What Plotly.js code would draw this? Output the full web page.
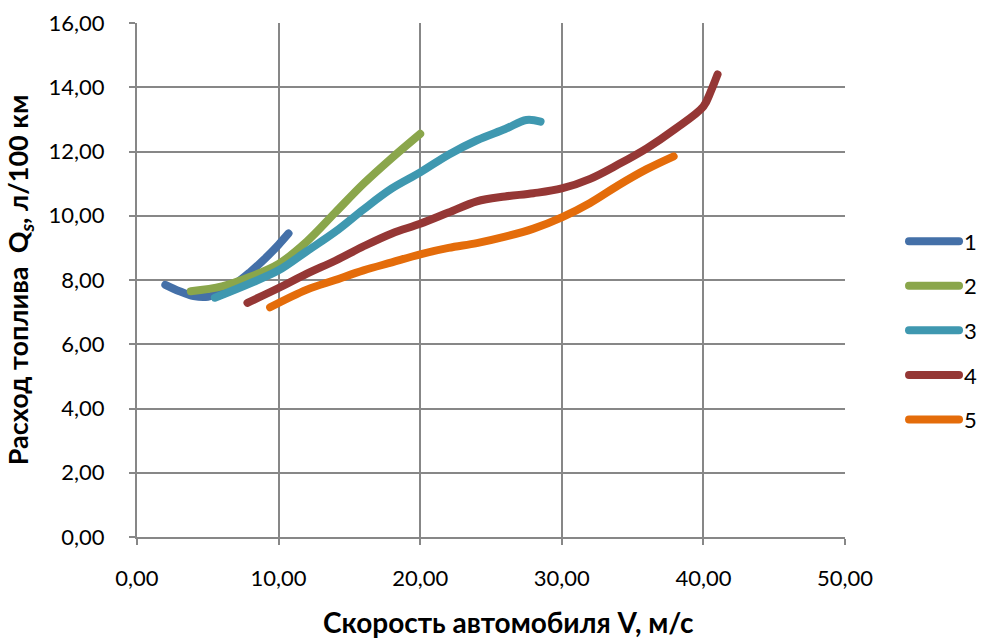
<!DOCTYPE html>
<html>
<head>
<meta charset="utf-8">
<script src="https://cdn.plot.ly/plotly-3.0.1.min.js"></script>
<style>
  html, body { margin: 0; padding: 0; background: #fff; }
  #chart { width: 982px; height: 639px; }
  /* rounded ends on the curves and legend swatches */
  #chart path.js-line { stroke-linecap: round; stroke-linejoin: round; }
</style>
</head>
<body>
<div id="chart"></div>
<script>
// Fuel consumption vs vehicle speed, five gears
const seriesNames = ['1', '2', '3', '4', '5'];
const seriesColors = ['#4470A8', '#8AA64B', '#3F98B0', '#953735', '#E46C0A'];

const v1 = [2.0, 3.0, 4.0, 5.0, 6.0, 7.0, 8.0, 9.0, 10.0, 10.7];
const q1 = [7.85, 7.65, 7.5, 7.48, 7.65, 7.9, 8.25, 8.65, 9.1, 9.45];

const v2 = [3.8, 6.0, 8.0, 10.0, 12.0, 14.0, 16.0, 18.0, 20.0];
const q2 = [7.65, 7.8, 8.1, 8.5, 9.2, 10.1, 11.0, 11.8, 12.55];

const v3 = [5.5, 8.0, 10.0, 12.0, 14.0, 16.0, 18.0, 20.0, 22.0, 24.0, 26.0, 27.5, 28.5];
const q3 = [7.45, 7.9, 8.3, 8.9, 9.5, 10.2, 10.85, 11.35, 11.9, 12.35, 12.7, 12.98, 12.93];

const v4 = [7.8, 10.0, 12.0, 14.0, 16.0, 18.0, 20.0, 22.0, 24.0, 26.0, 28.0, 30.0, 32.0, 34.0, 36.0, 38.0, 40.0, 40.5, 41.0];
const q4 = [7.29, 7.75, 8.2, 8.6, 9.05, 9.45, 9.75, 10.1, 10.45, 10.6, 10.7, 10.85, 11.15, 11.6, 12.1, 12.7, 13.4, 13.85, 14.4];

const v5 = [9.4, 12.0, 14.0, 16.0, 18.0, 20.0, 22.0, 24.0, 26.0, 28.0, 30.0, 32.0, 34.0, 36.0, 37.9];
const q5 = [7.15, 7.7, 8.0, 8.3, 8.55, 8.8, 9.0, 9.15, 9.35, 9.6, 9.95, 10.4, 10.95, 11.45, 11.85];

const xTicks = [0, 10, 20, 30, 40, 50];
const yTicks = [0, 2, 4, 6, 8, 10, 12, 14, 16];

const xTitle = 'Скорость автомобиля V, м/с';
const yTitle = 'Расход топлива  Q<sub><i>s</i></sub>, л/100 км';

const xs = [v1, v2, v3, v4, v5];
const ys = [q1, q2, q3, q4, q5];

const FONT = 'Lato, "Open Sans", sans-serif';
const GRID = '#878787';

const traces = seriesNames.map((name, i) => ({
  type: 'scatter',
  mode: 'lines',
  name: name,
  x: xs[i],
  y: ys[i],
  legendgroup: 'g' + i,
  line: { color: seriesColors[i], width: 8, shape: 'spline', smoothing: 1 },
  hoverinfo: 'x+y'
}));

const layout = {
  width: 982,
  height: 639,
  paper_bgcolor: '#ffffff',
  plot_bgcolor: '#ffffff',
  separators: ', ',
  font: { family: FONT, size: 22, color: '#000' },
  margin: { l: 137, r: 137, t: 23, b: 102 },
  showlegend: true,
  legend: {
    xref: 'container', yref: 'container',
    x: 0.9206, xanchor: 'left',
    y: 0.483, yanchor: 'middle',
    font: { family: FONT, size: 22, color: '#000' },
    tracegroupgap: 13,
    itemwidth: 50,
    bgcolor: 'rgba(0,0,0,0)'
  },
  // horizontal axis title sits centred under the whole chart area
  annotations: [{
    text: '<b>' + xTitle + '</b>',
    xref: 'paper', yref: 'paper',
    x: 0.5254, y: -0.165,
    xanchor: 'center', yanchor: 'middle',
    showarrow: false,
    font: { family: FONT, size: 28, color: '#000' }
  }],
  xaxis: {
    range: [0, 50],
    tickvals: xTicks,
    tickformat: '.2f',
    automargin: false,
    showgrid: true,
    gridcolor: GRID,
    gridwidth: 2,
    zeroline: false,
    showline: true,
    linecolor: GRID,
    linewidth: 2,
    ticks: 'outside',
    ticklen: 6,
    tickwidth: 2,
    tickcolor: GRID,
    ticklabelstandoff: 15,
    tickfont: { family: FONT, size: 22, color: '#000' }
  },
  yaxis: {
    range: [0, 16],
    tickvals: yTicks,
    tickformat: '.2f',
    automargin: false,
    showgrid: true,
    gridcolor: GRID,
    gridwidth: 2,
    zeroline: false,
    showline: true,
    linecolor: GRID,
    linewidth: 2,
    ticks: 'outside',
    ticklen: 6,
    tickwidth: 2,
    tickcolor: GRID,
    ticklabelstandoff: 20,
    tickfont: { family: FONT, size: 22, color: '#000' },
    title: {
      text: '<b>' + yTitle + '</b>',
      font: { family: FONT, size: 27, color: '#000' },
      standoff: 12
    }
  }
};

Plotly.newPlot('chart', traces, layout, { displayModeBar: false, responsive: false });
</script>
</body>
</html>
